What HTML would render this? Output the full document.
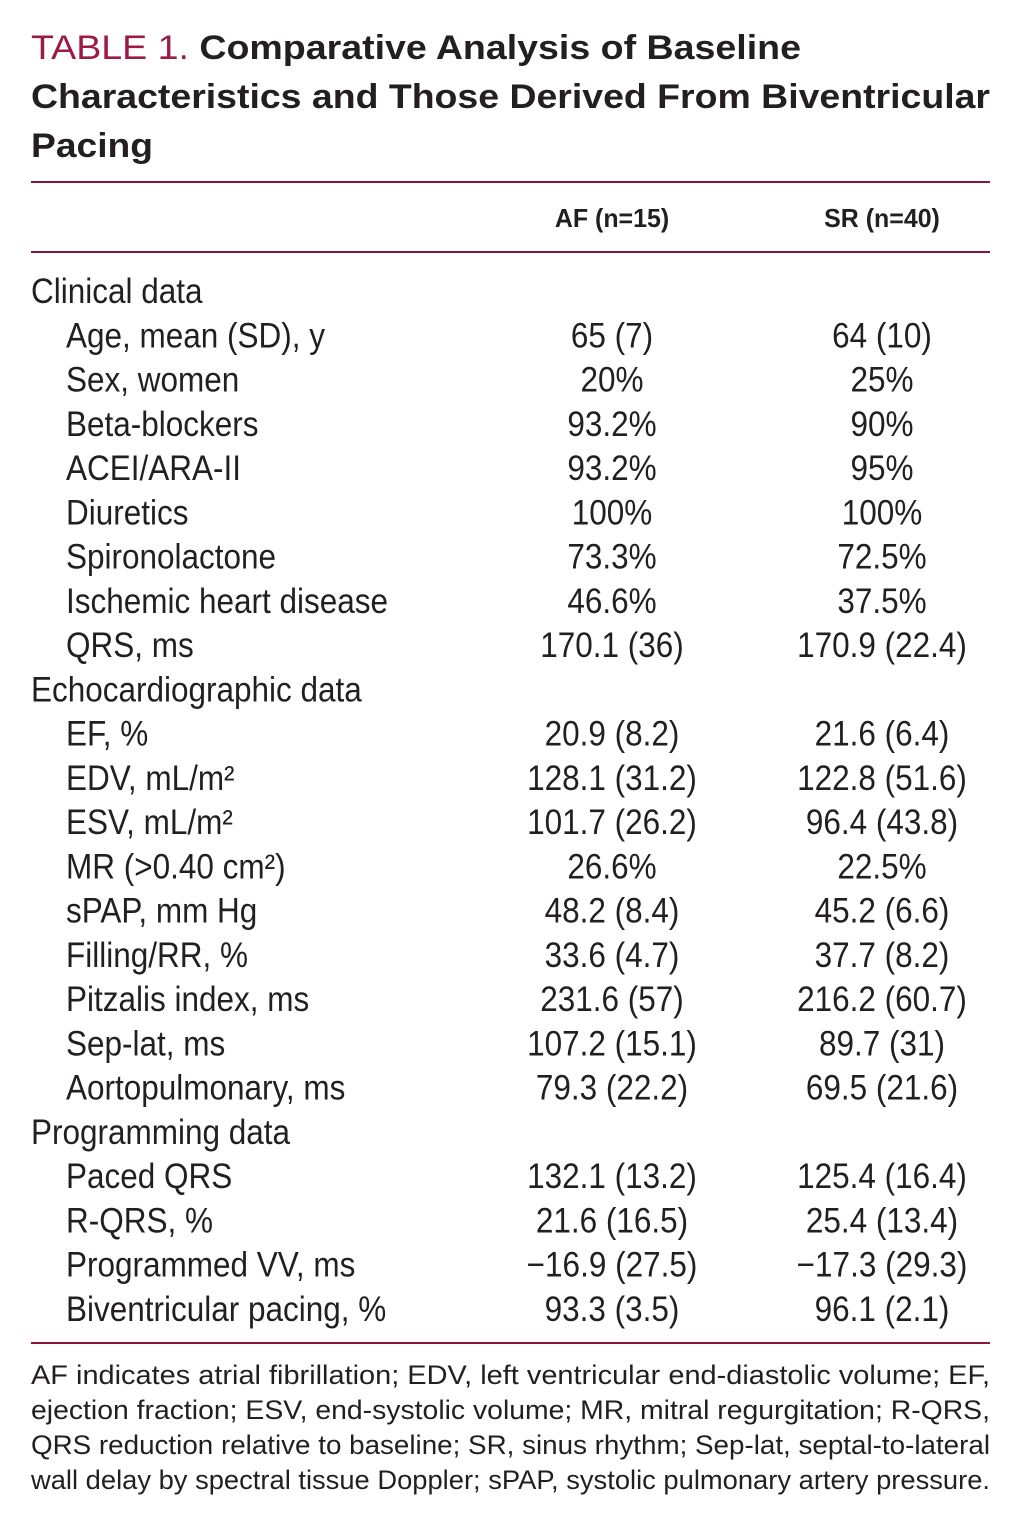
<!DOCTYPE html>
<html><head><meta charset="utf-8"><style>
html,body{margin:0;padding:0;background:#fff;}
svg{display:block;}
.t{font-family:"Liberation Sans",sans-serif;font-weight:bold;font-size:34px;fill:#231f20;}
.r{font-family:"Liberation Sans Narrow","Liberation Sans",sans-serif;font-size:35px;fill:#231f20;}
.h{font-family:"Liberation Sans Narrow","Liberation Sans",sans-serif;font-weight:bold;font-size:26px;fill:#231f20;}
.f{font-family:"Liberation Sans Narrow","Liberation Sans",sans-serif;font-size:26.5px;fill:#231f20;}
</style></head><body>
<svg width="1025" height="1525" viewBox="0 0 1025 1525">
<text class="t" x="31" y="59" textLength="770" lengthAdjust="spacingAndGlyphs"><tspan style="font-weight:normal;fill:#9b1b45">TABLE 1.</tspan> Comparative Analysis of Baseline</text>
<text class="t" x="31" y="108" textLength="959" lengthAdjust="spacingAndGlyphs">Characteristics and Those Derived From Biventricular</text>
<text class="t" x="31" y="157" textLength="122" lengthAdjust="spacingAndGlyphs">Pacing</text>
<rect x="31" y="181" width="959" height="2" fill="#8b1538"/>
<text class="h" transform="translate(612,227) scale(0.96,1)" text-anchor="middle">AF (n=15)</text>
<text class="h" transform="translate(882,227) scale(0.96,1)" text-anchor="middle">SR (n=40)</text>
<rect x="31" y="251" width="959" height="2" fill="#8b1538"/>
<g id="rows"></g>
<rect x="31" y="1342" width="959" height="2" fill="#8b1538"/>
<text class="f" x="31" y="1384" textLength="959" lengthAdjust="spacingAndGlyphs">AF indicates atrial fibrillation; EDV, left ventricular end-diastolic volume; EF,</text>
<text class="f" x="31" y="1419" textLength="959" lengthAdjust="spacingAndGlyphs">ejection fraction; ESV, end-systolic volume; MR, mitral regurgitation; R-QRS,</text>
<text class="f" x="31" y="1454" textLength="959" lengthAdjust="spacingAndGlyphs">QRS reduction relative to baseline; SR, sinus rhythm; Sep-lat, septal-to-lateral</text>
<text class="f" x="31" y="1489" textLength="959" lengthAdjust="spacingAndGlyphs">wall delay by spectral tissue Doppler; sPAP, systolic pulmonary artery pressure.</text>
</svg>
<script>
const labels=["Clinical data","Age, mean (SD), y","Sex, women","Beta-blockers","ACEI/ARA-II","Diuretics","Spironolactone","Ischemic heart disease","QRS, ms","Echocardiographic data","EF, %","EDV, mL/m²","ESV, mL/m²","MR (>0.40 cm²)","sPAP, mm  Hg","Filling/RR, %","Pitzalis index, ms","Sep-lat, ms","Aortopulmonary, ms","Programming data","Paced QRS","R-QRS, %","Programmed VV, ms","Biventricular pacing, %"];
const afVals=["","65 (7)","20%","93.2%","93.2%","100%","73.3%","46.6%","170.1 (36)","","20.9 (8.2)","128.1 (31.2)","101.7 (26.2)","26.6%","48.2 (8.4)","33.6 (4.7)","231.6 (57)","107.2 (15.1)","79.3 (22.2)","","132.1 (13.2)","21.6 (16.5)","−16.9 (27.5)","93.3 (3.5)"];
const srVals=["","64 (10)","25%","90%","95%","100%","72.5%","37.5%","170.9 (22.4)","","21.6 (6.4)","122.8 (51.6)","96.4 (43.8)","22.5%","45.2 (6.6)","37.7 (8.2)","216.2 (60.7)","89.7 (31)","69.5 (21.6)","","125.4 (16.4)","25.4 (13.4)","−17.3 (29.3)","96.1 (2.1)"];
const NS="http://www.w3.org/2000/svg";
const g=document.getElementById("rows");
labels.forEach((lab,i)=>{
  const y=303+i*44.25;
  const sec=afVals[i]==="";
  const t=document.createElementNS(NS,"text");
  t.setAttribute("class","r");
  t.setAttribute("transform","translate("+(sec?31:66)+","+y+") scale(0.9,1)");
  t.setAttribute("xml:space","preserve");
  t.textContent=lab;
  
  
  g.appendChild(t);
  if(!sec){
    [[612,afVals[i],'af-value'],[882,srVals[i],'sr-value']].forEach(([x,v,n])=>{
      const c=document.createElementNS(NS,"text");
      c.setAttribute("class","r");
      c.setAttribute("transform","translate("+x+","+y+") scale(0.9,1)");
      c.setAttribute("text-anchor","middle");
      c.textContent=v;
      
      
      g.appendChild(c);
    });
  }
});
</script>
</body></html>
